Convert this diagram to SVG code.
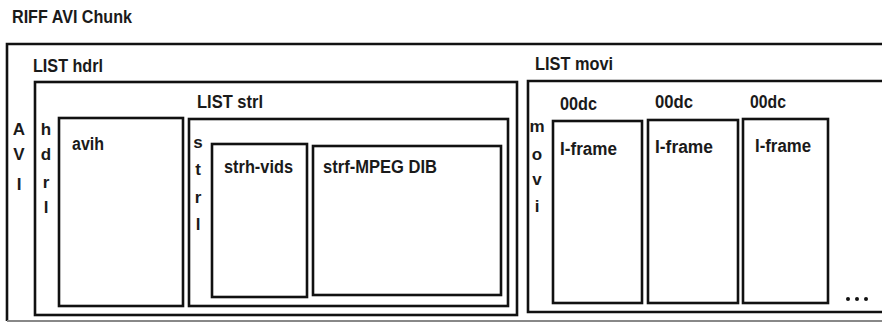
<svg xmlns="http://www.w3.org/2000/svg" width="882" height="322" viewBox="0 0 882 322">
<style>
text{font-family:"Liberation Sans Narrow","Liberation Sans",Arial,sans-serif;font-size:17.5px;font-weight:bold;fill:#1a1a1a;}
.t{font-size:18.5px;}
.v{text-anchor:middle;font-size:17px;}
.box{fill:#fff;stroke:#111;stroke-width:2.6;}
.ln{fill:none;stroke:#111;stroke-width:2.6;}
</style>
<rect width="882" height="322" fill="#fff"/>
<g id="title"><text class="t" x="12" y="23" textLength="120" lengthAdjust="spacingAndGlyphs">RIFF AVI Chunk</text></g>
<g id="riff">
<path class="ln" d="M882 44 H7 V321"/>
<path d="M7 321 H882" fill="none" stroke="#888" stroke-width="2"/>
<text class="v" x="19" y="135">A</text>
<text class="v" x="19" y="160">V</text>
<text class="v" x="19" y="190">I</text>
</g>
<g id="hdrl">
<text x="33" y="72" textLength="70" lengthAdjust="spacingAndGlyphs">LIST hdrl</text>
<rect class="box" x="35" y="82" width="482" height="233"/>
<text class="v" x="46" y="135">h</text>
<text class="v" x="46" y="160">d</text>
<text class="v" x="46" y="188">r</text>
<text class="v" x="46" y="213">l</text>
</g>
<g id="avih">
<rect class="box" x="59" y="118" width="124" height="188"/>
<text x="72" y="150" textLength="32" lengthAdjust="spacingAndGlyphs">avih</text>
</g>
<g id="strl">
<text x="197" y="108" textLength="66" lengthAdjust="spacingAndGlyphs">LIST strl</text>
<rect class="box" x="189" y="119" width="319" height="187"/>
<text class="v" x="198" y="148">s</text>
<text class="v" x="198" y="175">t</text>
<text class="v" x="198" y="203">r</text>
<text class="v" x="198" y="230">l</text>
</g>
<g id="strh">
<rect class="box" x="212" y="144" width="95" height="153"/>
<text x="224" y="173" textLength="69" lengthAdjust="spacingAndGlyphs">strh-vids</text>
</g>
<g id="strf">
<rect class="box" x="313" y="146" width="188" height="149"/>
<text x="323" y="173" textLength="114" lengthAdjust="spacingAndGlyphs">strf-MPEG DIB</text>
</g>
<g id="movi">
<text x="535" y="70" textLength="78" lengthAdjust="spacingAndGlyphs">LIST movi</text>
<path class="ln" d="M890 81 H528 V312 H890"/>
<text class="v" x="537" y="132">m</text>
<text class="v" x="537" y="160">o</text>
<text class="v" x="537" y="185">v</text>
<text class="v" x="537" y="212">i</text>
</g>
<g id="frame1">
<text x="560" y="110" textLength="37" lengthAdjust="spacingAndGlyphs">00dc</text>
<rect class="box" x="553" y="121" width="89" height="182"/>
<text x="560" y="155" textLength="57" lengthAdjust="spacingAndGlyphs">I-frame</text>
</g>
<g id="frame2">
<text x="655" y="108" textLength="38" lengthAdjust="spacingAndGlyphs">00dc</text>
<rect class="box" x="648" y="120" width="90" height="183"/>
<text x="655" y="153" textLength="58" lengthAdjust="spacingAndGlyphs">I-frame</text>
</g>
<g id="frame3">
<text x="750" y="108" textLength="36" lengthAdjust="spacingAndGlyphs">00dc</text>
<rect class="box" x="743" y="119" width="85" height="184"/>
<text x="755" y="152" textLength="56" lengthAdjust="spacingAndGlyphs">I-frame</text>
</g>
<g id="more">
<circle cx="848" cy="299" r="2" fill="#111"/>
<circle cx="857" cy="299" r="2" fill="#111"/>
<circle cx="866" cy="299" r="2" fill="#111"/>
</g>
<g id="connectors"></g>
</svg>
